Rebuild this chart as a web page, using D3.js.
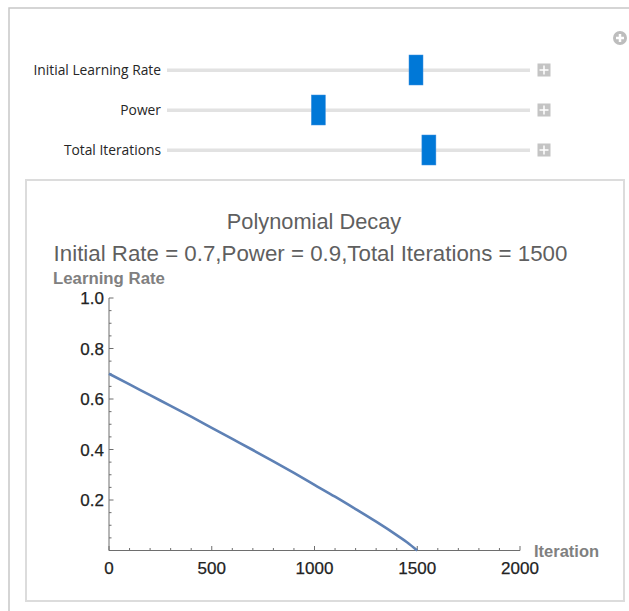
<!DOCTYPE html>
<html><head><meta charset="utf-8">
<script src="https://cdn.jsdelivr.net/npm/d3@7"></script>
<style>
html,body{margin:0;padding:0;background:#fff;}
svg{display:block;}
</style></head>
<body>
<script>
// ---- data ----
const iterations = [0,100,200,300,400,500,600,700,800,900,1000,1100,1200,1300,1400,1450,1500];
const learningRates = [0.700,0.658,0.615,0.573,0.530,0.486,0.442,0.398,0.353,0.307,0.260,0.213,0.164,0.114,0.061,0.033,0.000];
const xTicks = [0,500,1000,1500,2000];
const yTicks = [0.2,0.4,0.6,0.8,1.0];
const sliderLabels = ["Initial Learning Rate","Power","Total Iterations"];
const sliderValues = [0.7,0.9,1500];
const sliderDomains = [[0,1],[0.1,2],[100,2000]];
const titleText = "Polynomial Decay";
const subtitleText = "Initial Rate = 0.7,Power = 0.9,Total Iterations = 1500";

const W=629,H=611;
const svg=d3.select("body").append("svg").attr("width",W).attr("height",H);

// outer frame
svg.append("rect").attr("x",9).attr("y",8).attr("width",W).attr("height",H)
  .attr("fill","#fff").attr("stroke","#c8c8c8").attr("stroke-width",1.5);

// circle plus icon
const cp=svg.append("g").attr("transform","translate(620,38)");
cp.append("circle").attr("r",7).attr("fill","#bdbdbd");
cp.append("rect").attr("x",-4).attr("y",-1.25).attr("width",8).attr("height",2.5).attr("fill","#fff");
cp.append("rect").attr("x",-1.25).attr("y",-4).attr("width",2.5).attr("height",8).attr("fill","#fff");

// sliders
const sliderFont="'Open Sans', 'DejaVu Sans', sans-serif";
sliderLabels.forEach((lab,i)=>{
  const cy=70+i*40;
  const sc=d3.scaleLinear().domain(sliderDomains[i]).range([171,521]);
  svg.append("text").attr("x",161).attr("y",cy+4.5).attr("text-anchor","end")
    .attr("font-family",sliderFont).attr("font-size",13.8).attr("fill","#262626").text(lab);
  svg.append("rect").attr("x",167).attr("y",cy-1.5).attr("width",363).attr("height",3.5)
    .attr("fill","#e2e2e2");
  const hx=sc(sliderValues[i]);
  svg.append("rect").attr("x",hx-7).attr("y",cy-15).attr("width",14).attr("height",30)
    .attr("fill","#0078d7").attr("stroke","#3d8fe0").attr("stroke-width",0.5);
  const pg=svg.append("g").attr("transform",`translate(544,${cy})`);
  pg.append("rect").attr("x",-6.5).attr("y",-6.5).attr("width",13).attr("height",13).attr("fill","#c4c4c4");
  pg.append("rect").attr("x",-4.5).attr("y",-0.75).attr("width",9).attr("height",1.5).attr("fill","#fff");
  pg.append("rect").attr("x",-0.75).attr("y",-4.5).attr("width",1.5).attr("height",9).attr("fill","#fff");
});

// plot panel
svg.append("rect").attr("x",26).attr("y",180).attr("width",598).attr("height",421)
  .attr("fill","#fff").attr("stroke","#dcdcdc").attr("stroke-width",2);

const font="'Liberation Sans', Arial, sans-serif";
svg.append("text").attr("x",314).attr("y",229).attr("text-anchor","middle")
  .attr("font-family",font).attr("font-size",21.8).attr("fill","#5f5f5f").text(titleText);
svg.append("text").attr("x",310.5).attr("y",261).attr("text-anchor","middle")
  .attr("font-family",font).attr("font-size",22.3).attr("fill","#5f5f5f").text(subtitleText);

const x=d3.scaleLinear().domain([0,2000]).range([109,520]);
const y=d3.scaleLinear().domain([0,1]).range([550.5,298]);

const axisColor="#6e6e6e";
// axes lines
svg.append("line").attr("x1",x(0)).attr("x2",x(2000)).attr("y1",y(0)).attr("y2",y(0))
  .attr("stroke",axisColor).attr("stroke-width",1);
svg.append("line").attr("x1",x(0)).attr("x2",x(0)).attr("y1",y(0)).attr("y2",y(1))
  .attr("stroke",axisColor).attr("stroke-width",1);

// minor & major ticks (inward)
const xMinor=d3.range(0,2001,100);
svg.selectAll(".xt").data(xMinor).enter().append("line")
  .attr("x1",d=>x(d)).attr("x2",d=>x(d)).attr("y1",y(0))
  .attr("y2",d=>y(0)-(d%500===0?4.5:2.5)).attr("stroke",axisColor);
const yMinor=d3.range(0.05,1.0001,0.05);
svg.selectAll(".yt").data(yMinor).enter().append("line")
  .attr("y1",d=>y(d)).attr("y2",d=>y(d)).attr("x1",x(0))
  .attr("x2",d=>x(0)+(Math.abs(d*5-Math.round(d*5))<1e-6?4.5:2.5)).attr("stroke",axisColor);

// tick labels
svg.selectAll(".xl").data(xTicks).enter().append("text")
  .attr("x",d=>x(d)).attr("y",574).attr("text-anchor","middle")
  .attr("font-family",font).attr("font-size",17).attr("fill","#222")
  .attr("stroke","#222").attr("stroke-width",0.25).text(d=>d);
svg.selectAll(".yl").data(yTicks).enter().append("text")
  .attr("x",104).attr("y",d=>y(d)+6).attr("text-anchor","end")
  .attr("font-family",font).attr("font-size",17).attr("fill","#222")
  .attr("stroke","#222").attr("stroke-width",0.25).text(d=>d.toFixed(1));

// axis labels
svg.append("text").attr("x",53).attr("y",284).attr("font-family",font).attr("font-size",16.8)
  .attr("font-weight","bold").attr("fill","#808080").text("Learning Rate");
svg.append("text").attr("x",534).attr("y",557).attr("font-family",font).attr("font-size",16.5)
  .attr("font-weight","bold").attr("fill","#808080").text("Iteration");

// curve
const pts=iterations.map((t,i)=>[t,learningRates[i]]);
svg.append("path").datum(pts)
  .attr("d",d3.line().x(d=>x(d[0])).y(d=>y(d[1])).curve(d3.curveMonotoneX))
  .attr("fill","none").attr("stroke","#5e81b5").attr("stroke-width",2.6);
</script>
</body></html>
